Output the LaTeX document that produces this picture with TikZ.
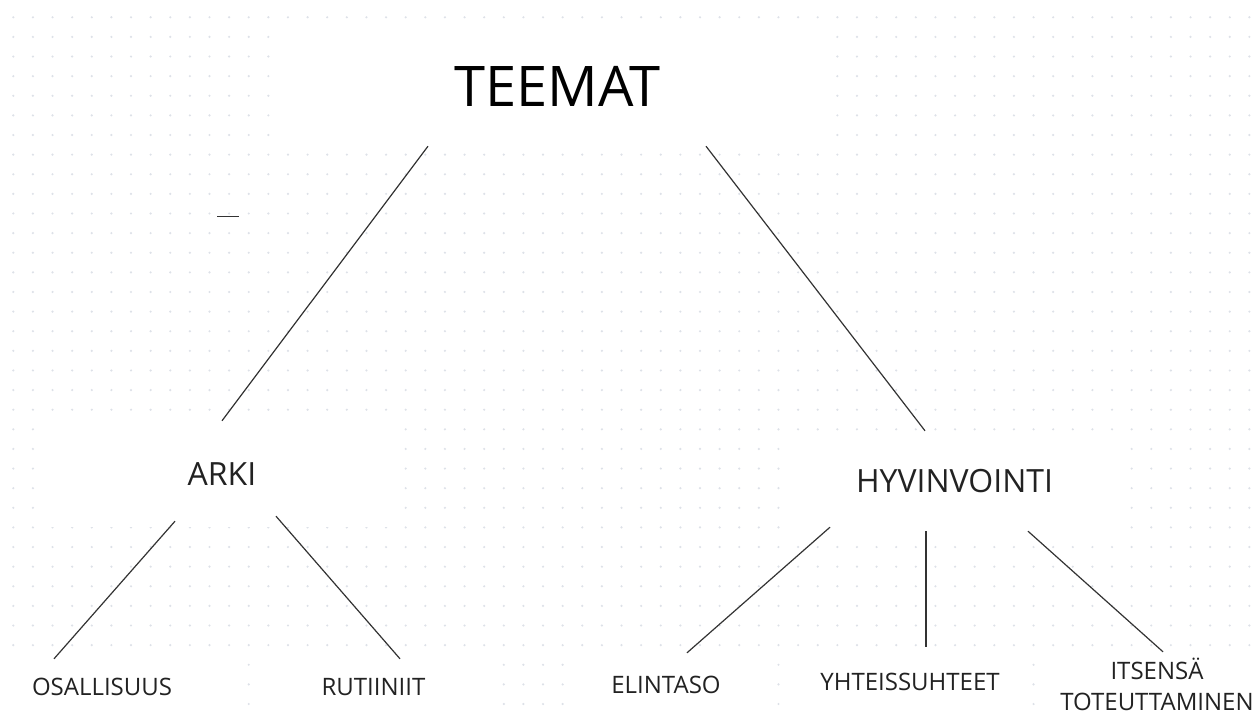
\documentclass[tikz,border=0pt]{standalone}
\usepackage{fontspec}
\setmainfont{Open Sans}
\definecolor{dotgray}{HTML}{DDE1E8}
\definecolor{inkgray}{HTML}{222222}
\definecolor{linegray}{HTML}{333333}

\begin{document}
\begin{tikzpicture}[x=1pt,y=-1pt,
  box node/.style={fill=white,inner sep=0pt,text=inkgray,font=\fontsize{24}{31}\selectfont},
  top node/.style={box node,text=black,font=\fontsize{56}{60}\selectfont},
  mid node/.style={box node,font=\fontsize{32}{38}\selectfont},
  every edge/.style={draw,linegray,line width=1.2pt}]
  \useasboundingbox (0,0) rectangle (1253,719);
  \fill[white] (0,0) rectangle (1253,719);
  % dotted grid
  \foreach \i in {0,...,63}
    \foreach \j in {0,...,35}
      \fill[dotgray] (13.3+19.62*\i, 17.3+19.62*\j) circle (1.2pt);

  \node[top node, minimum width=552pt, minimum height=120pt] at (557.5, 86) (teemat) {TEEMAT};
  \node[mid node, minimum width=360pt, minimum height=106pt] at (222, 474) (arki) {ARKI};
  \node[mid node, minimum width=350pt, minimum height=100pt] at (954.5, 481) (hyvinvointi) {HYVINVOINTI};
  \node[box node, minimum width=266pt, minimum height=56pt] at (102, 687) (osallisuus) {OSALLISUUS};
  \node[box node, minimum width=232pt, minimum height=56pt] at (373.5, 687) (rutiinit) {RUTIINIIT};
  \node[box node, minimum width=204pt, minimum height=63pt] at (666, 684.5) (elintaso) {ELINTASO};
  \node[box node, minimum width=244pt, minimum height=70pt] at (910, 682) (yhteissuhteet) {YHTEISSUHTEET};
  \node[box node, align=center, minimum width=234pt, minimum height=64pt] at (1157, 684) (itsensa) {ITSENSÄ\\TOTEUTTAMINEN};

  \draw[linegray, line width=0.8pt] (217,216) -- (239,216);

  \path ([xshift=-129.5pt]teemat.south) edge (arki.north)
        ([xshift=148.5pt]teemat.south) edge ([xshift=-29.5pt]hyvinvointi.north);
  \path ([xshift=-47pt,yshift=6pt]arki.south) edge ([xshift=-48pt]osallisuus.north)
        ([xshift=54pt,yshift=11pt]arki.south) edge ([xshift=26.5pt]rutiinit.north);
  \path ([xshift=-124.5pt,yshift=4pt]hyvinvointi.south) edge ([xshift=21pt]elintaso.north)
        ([xshift=-28.5pt]hyvinvointi.south) edge ([xshift=16pt]yhteissuhteet.north)
        ([xshift=73.5pt]hyvinvointi.south) edge ([xshift=6pt]itsensa.north);
\end{tikzpicture}
\end{document}
